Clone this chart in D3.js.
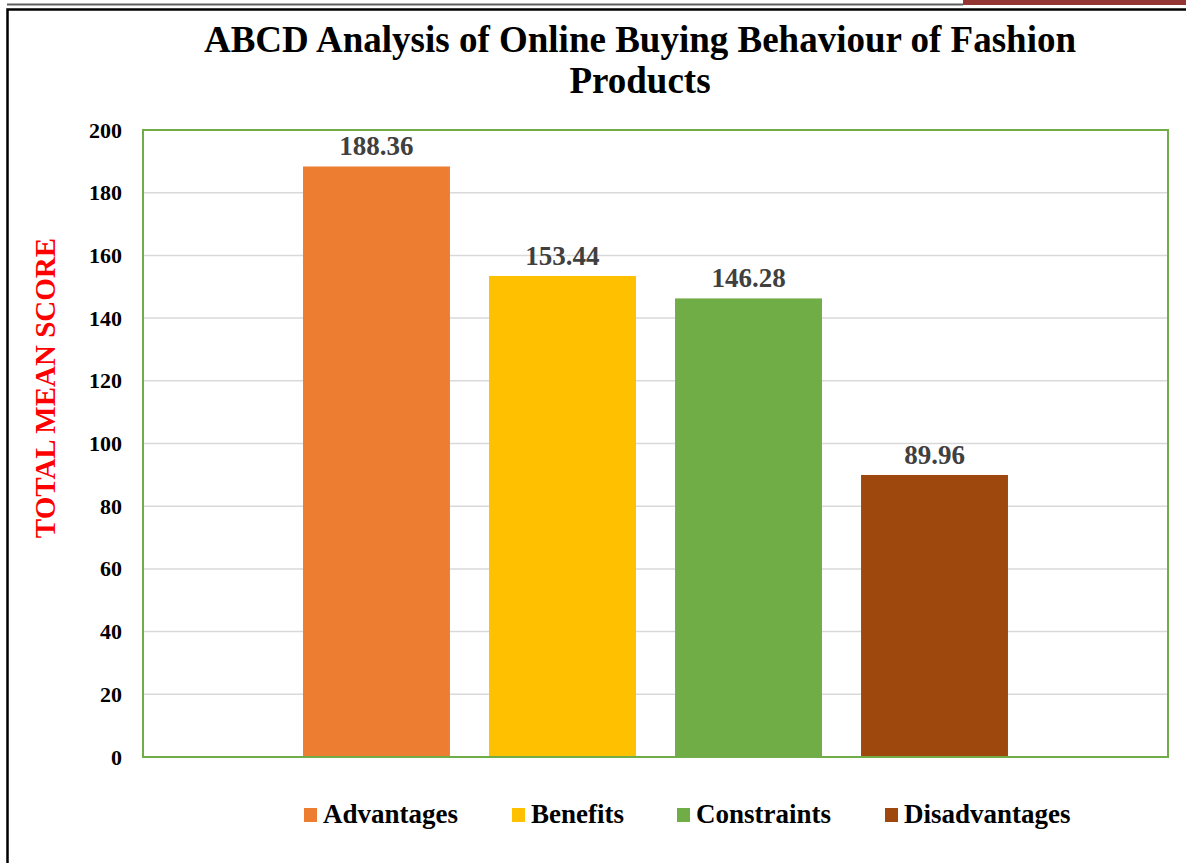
<!DOCTYPE html>
<html>
<head>
<meta charset="utf-8">
<script src="https://cdn.jsdelivr.net/npm/d3@7"></script>
<style>
  body { margin: 0; background: #fff; }
  text { font-family: "Liberation Serif", "Times New Roman", serif; font-weight: bold; }
</style>
</head>
<body>
<svg id="chart" width="1186" height="863"></svg>
<script>
// chart data
const categories = ["Advantages", "Benefits", "Constraints", "Disadvantages"];
const scores = [188.36, 153.44, 146.28, 89.96];
const colors = ["#ed7d31", "#ffc000", "#70ad47", "#9e480e"];
const yTicks = [0, 20, 40, 60, 80, 100, 120, 140, 160, 180, 200];

const svg = d3.select("#chart");

// page decoration: top rule + red tab, frame
svg.append("line").attr("x1", 7).attr("x2", 963).attr("y1", 4.5).attr("y2", 4.5)
    .attr("stroke", "#5f5f5f").attr("stroke-width", 2);
svg.append("rect").attr("x", 963).attr("y", 0).attr("width", 223).attr("height", 5)
    .attr("fill", "#943634");
svg.append("path").attr("d", "M7.5,863V9.5H1186")
    .attr("fill", "none").attr("stroke", "#000").attr("stroke-width", 2.5);

// title
const title = svg.append("text").attr("text-anchor", "middle")
    .style("font-size", "37px").attr("fill", "#000");
title.append("tspan").attr("x", 640).attr("y", 52).text("ABCD Analysis of Online Buying Behaviour of Fashion");
title.append("tspan").attr("x", 640).attr("y", 93).text("Products");

// plot area
const plot = { left: 143, top: 130, right: 1168, bottom: 757 };
const W = plot.right - plot.left, H = plot.bottom - plot.top;

const y = d3.scaleLinear().domain([0, 200]).range([plot.bottom, plot.top]);
const x0 = d3.scaleBand().domain([""]).range([plot.left, plot.right]).paddingOuter(0.227);
const x1 = d3.scaleBand().domain(categories).range([0, x0.bandwidth()]).paddingInner(0.21).paddingOuter(0);

// gridlines
svg.append("g").selectAll("line").data(yTicks.filter(d => d > 0 && d < 200)).join("line")
    .attr("x1", plot.left).attr("x2", plot.right)
    .attr("y1", d => y(d)).attr("y2", d => y(d))
    .attr("stroke", "#d9d9d9").attr("stroke-width", 1.5);

// y axis labels
const yAxis = svg.append("g").attr("transform", `translate(${plot.left},0)`)
    .call(d3.axisLeft(y).tickValues(yTicks).tickSize(0).tickPadding(21));
yAxis.select(".domain").remove();
yAxis.selectAll("text").style("font-size", "22px").attr("fill", "#000")
    .style("font-family", "Liberation Serif").style("font-weight", "bold");

// bars
const gx = x0("");
svg.append("g").selectAll("rect").data(categories).join("rect")
    .attr("x", d => gx + x1(d)).attr("width", x1.bandwidth())
    .attr("y", (d, i) => y(scores[i])).attr("height", (d, i) => y(0) - y(scores[i]))
    .attr("fill", (d, i) => colors[i]);

// data labels
svg.append("g").selectAll("text").data(categories).join("text")
    .attr("x", d => gx + x1(d) + x1.bandwidth() / 2)
    .attr("y", (d, i) => y(scores[i]) - 11)
    .attr("text-anchor", "middle").style("font-size", "27px").attr("fill", "#404040")
    .text((d, i) => scores[i].toFixed(2));

// plot border
svg.append("rect").attr("x", plot.left).attr("y", plot.top).attr("width", W).attr("height", H)
    .attr("fill", "none").attr("stroke", "#70ad47").attr("stroke-width", 2);

// y title
svg.append("text").attr("transform", "translate(55,388) rotate(-90)")
    .attr("text-anchor", "middle").style("font-size", "29px").attr("fill", "#ff0000")
    .text("TOTAL MEAN SCORE");

// legend
const legendX = [304, 512, 677, 885];
const legend = svg.append("g").selectAll("g").data(categories).join("g")
    .attr("transform", (d, i) => `translate(${legendX[i]},808)`);
legend.append("rect").attr("width", 13).attr("height", 14).attr("fill", (d, i) => colors[i]);
legend.append("text").attr("x", 19).attr("y", 15).style("font-size", "27px").attr("fill", "#000")
    .text(d => d);
</script>
</body>
</html>
